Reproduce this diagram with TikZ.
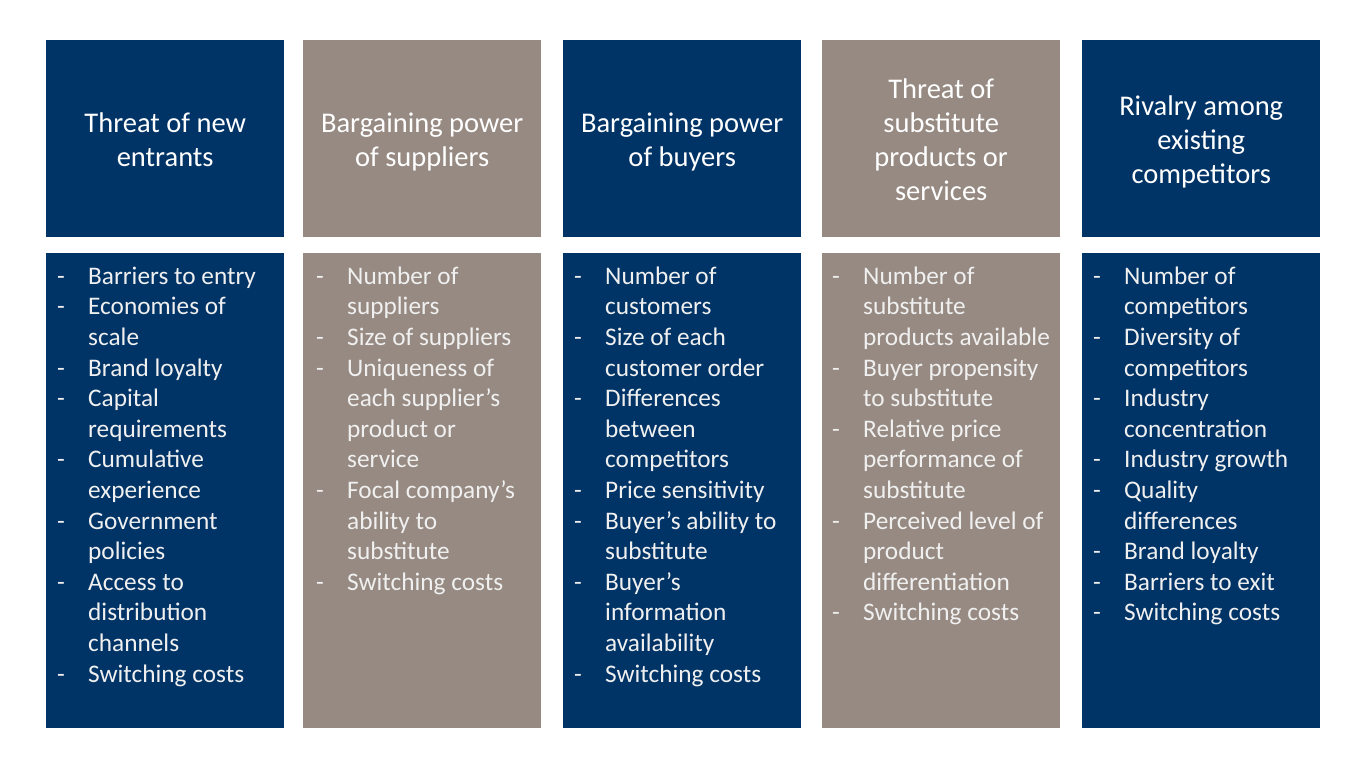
\documentclass[tikz,border=0pt]{standalone}
\usepackage{fontspec}
\setmainfont{Carlito}
\definecolor{navy}{HTML}{003366}
\definecolor{taupe}{HTML}{968A82}
\definecolor{bodytxt}{HTML}{F0F0F0}
\newcommand\itm{\makebox[31pt][l]{\strut-}}
\newcommand\cnt{\hspace*{31pt}\strut}
\newcommand\hl{\strut}
\begin{document}
\begin{tikzpicture}[x=1pt,y=-1pt,
  hbox/.style={inner sep=0pt, minimum width=238pt, minimum height=197pt, anchor=north west},
  bbox/.style={inner sep=0pt, minimum width=238pt, minimum height=475pt, anchor=north west},
  htxt/.style={text=white, align=center, font=\fontsize{28.5}{34}\selectfont, inner sep=0pt},
  btxt/.style={text=bodytxt, align=left, font=\fontsize{25.3}{30.6}\selectfont, inner sep=0pt, anchor=north west}
]
\useasboundingbox[fill=white] (0,0) rectangle (1360,768);
% headers
\node[hbox, fill=navy]  (h1) at (46,40) {};
\node[hbox, fill=taupe] (h2) at (303,40) {};
\node[hbox, fill=navy]  (h3) at (563,40) {};
\node[hbox, fill=taupe] (h4) at (822,40) {};
\node[hbox, fill=navy]  (h5) at (1082,40) {};
% bodies
\node[bbox, fill=navy]  (b1) at (46,253) {};
\node[bbox, fill=taupe] (b2) at (303,253) {};
\node[bbox, fill=navy]  (b3) at (563,253) {};
\node[bbox, fill=taupe] (b4) at (822,253) {};
\node[bbox, fill=navy]  (b5) at (1082,253) {};
% header texts
\node[htxt] (t1) at ([yshift=-3.7pt]h1.center) {\hl Threat of new\\\hl entrants};
\node[htxt] (t2) at ([yshift=-3.7pt]h2.center) {\hl Bargaining power\\\hl of suppliers};
\node[htxt] (t3) at ([yshift=-3.7pt]h3.center) {\hl Bargaining power\\\hl of buyers};
\node[htxt] (t4) at ([yshift=-3.7pt]h4.center) {\hl Threat of\\\hl substitute\\\hl products or\\\hl services};
\node[htxt] (t5) at ([yshift=-3.7pt]h5.center) {\hl Rivalry among\\\hl existing\\\hl competitors};
% body texts
\node[btxt] (l1) at (57,262.6) {\itm Barriers to entry\\\itm Economies of\\\cnt scale\\\itm Brand loyalty\\\itm Capital\\\cnt requirements\\\itm Cumulative\\\cnt experience\\\itm Government\\\cnt policies\\\itm Access to\\\cnt distribution\\\cnt channels\\\itm Switching costs};
\node[btxt] (l2) at (316,262.6) {\itm Number of\\\cnt suppliers\\\itm Size of suppliers\\\itm Uniqueness of\\\cnt each supplier’s\\\cnt product or\\\cnt service\\\itm Focal company’s\\\cnt ability to\\\cnt substitute\\\itm Switching costs};
\node[btxt] (l3) at (574,262.6) {\itm Number of\\\cnt customers\\\itm Size of each\\\cnt customer order\\\itm Differences\\\cnt between\\\cnt competitors\\\itm Price sensitivity\\\itm Buyer’s ability to\\\cnt substitute\\\itm Buyer’s\\\cnt information\\\cnt availability\\\itm Switching costs};
\node[btxt] (l4) at (832,262.6) {\itm Number of\\\cnt substitute\\\cnt products available\\\itm Buyer propensity\\\cnt to substitute\\\itm Relative price\\\cnt performance of\\\cnt substitute\\\itm Perceived level of\\\cnt product\\\cnt differentiation\\\itm Switching costs};
\node[btxt] (l5) at (1093,262.6) {\itm Number of\\\cnt competitors\\\itm Diversity of\\\cnt competitors\\\itm Industry\\\cnt concentration\\\itm Industry growth\\\itm Quality\\\cnt differences\\\itm Brand loyalty\\\itm Barriers to exit\\\itm Switching costs};
\end{tikzpicture}
\end{document}
